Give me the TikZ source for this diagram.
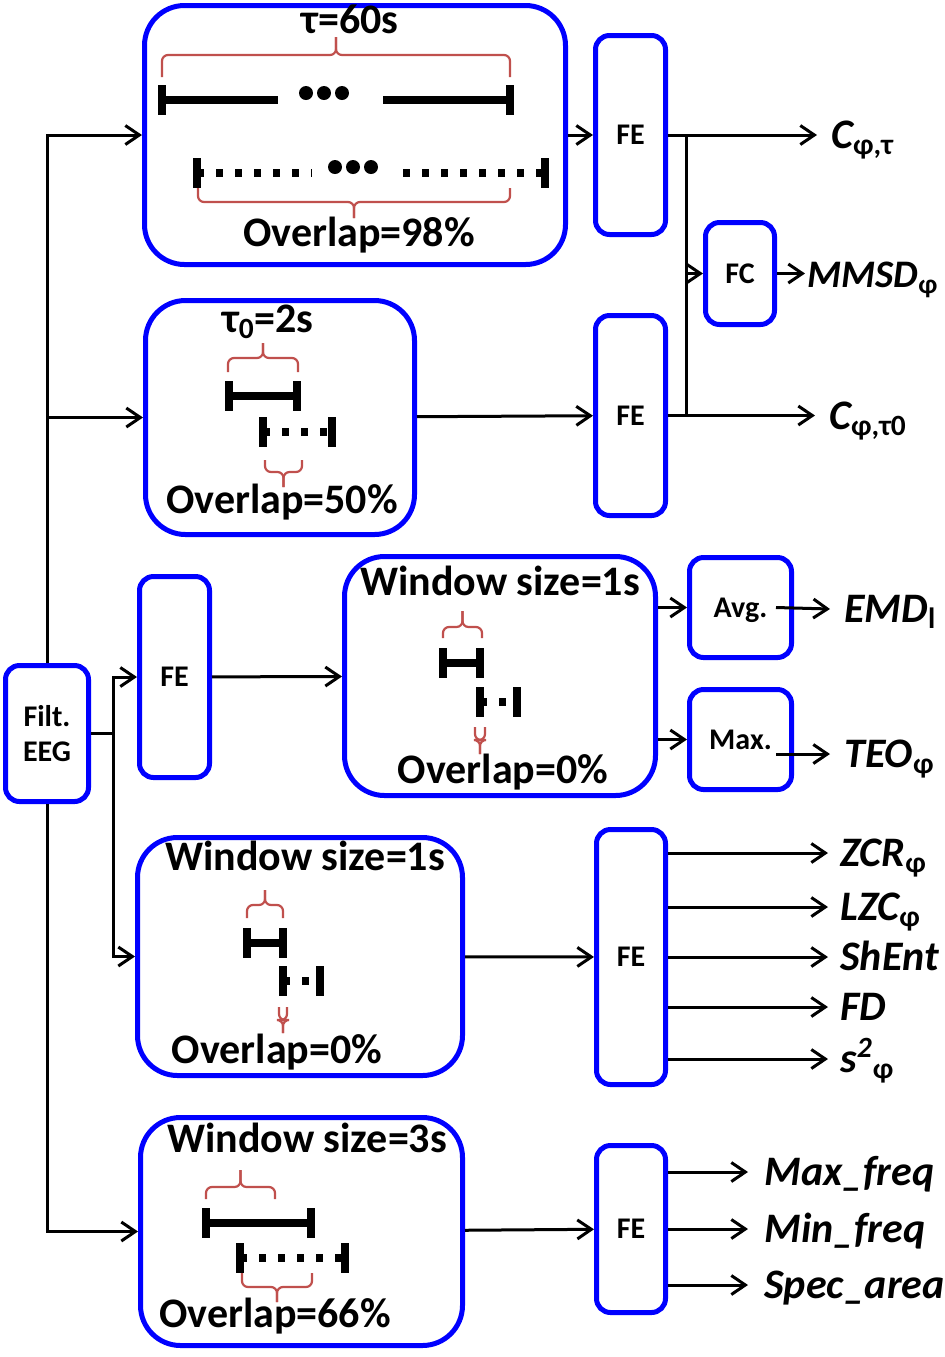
\documentclass[tikz,border=0pt]{standalone}
\usepackage{fontspec}
\setmainfont{Carlito}
\usetikzlibrary{arrows.meta}
\definecolor{boxblue}{RGB}{0,0,255}
\definecolor{bracered}{RGB}{192,80,77}
\tikzstyle{window}=[draw=boxblue,line width=2.5pt,rounded corners=20pt,fill=white]
\tikzstyle{stage}=[draw=boxblue,line width=2.5pt,rounded corners=7pt,align=center,text depth=0pt,font=\fontsize{15}{17.5}\selectfont\bfseries]
\tikzstyle{caption}=[anchor=base,inner sep=0pt,font=\fontsize{21}{25}\selectfont\bfseries]
\tikzstyle{feature}=[anchor=west,inner xsep=6pt,text height=13.5pt,text depth=0pt,font=\fontsize{21}{25}\selectfont\bfseries\itshape]
\tikzstyle{conn}=[line width=1.5pt]
\tikzstyle{arr}=[line width=1.5pt,-{Straight Barb[length=7pt,width=9.5pt]}]
\tikzstyle{winline}=[line width=4pt]
\tikzstyle{dotline}=[line width=4pt,dash pattern=on 3.5pt off 6pt]
\tikzstyle{capline}=[line width=4pt]
\tikzstyle{wbrace}=[draw=bracered,line width=1.1pt,rounded corners=3pt]
\newcommand{\wincap}[2]{\draw[capline] (#1,{#2-15}) -- (#1,{#2+15});}
\newcommand{\solidwin}[3]{\draw[winline] (#1,#3) -- (#2,#3); \wincap{#1}{#3}\wincap{#2}{#3}}
\newcommand{\dotwin}[3]{\draw[dotline] (#1,#3) -- (#2,#3); \wincap{#1}{#3}\wincap{#2}{#3}}
\newcommand{\wbr}[5]{\draw[wbrace] (#1,#3) |- ({(#1+#2)/2},#4) -- ({(#1+#2)/2},#5);
  \draw[wbrace] (#2,#3) |- ({(#1+#2)/2},#4) -- ({(#1+#2)/2},#5);}

\begin{document}
\begin{tikzpicture}[x=0.5pt,y=-0.5pt]
\useasboundingbox (0,0) rectangle (945,1357);

\node[stage,minimum width=41.5pt,minimum height=68pt] (filt) at (47,733.5) {Filt.\\EEG};

\node[window,minimum width=210.5pt,minimum height=129.5pt] (win1) at (355,135) {};
\node[window,minimum width=134.5pt,minimum height=117pt] (win2) at (280,417.5) {};
\node[window,minimum width=155.5pt,minimum height=119.5pt] (win3) at (500,676) {};
\node[window,minimum width=162.5pt,minimum height=119pt] (win4) at (300,956.5) {};
\node[window,minimum width=161pt,minimum height=114pt] (win5) at (301.5,1231.5) {};

\node[stage,minimum width=35pt,minimum height=99.5pt] (fe1) at (630.5,135) {FE};
\node[stage,minimum width=35pt,minimum height=100pt] (fe2) at (630.5,415.5) {FE};
\node[stage,minimum width=35pt,minimum height=100.5pt] (fe3) at (174.5,677) {FE};
\node[stage,minimum width=34.5pt,minimum height=127.5pt] (fe4) at (631,957) {FE};
\node[stage,minimum width=34.5pt,minimum height=83.5pt] (fe5) at (631,1229) {FE};
\node[stage,minimum width=34.5pt,minimum height=51pt] (fc) at (740,273.5) {FC};
\node[stage,minimum width=51pt,minimum height=50pt] (avg) at (740.5,607.5) {Avg.};
\node[stage,minimum width=51pt,minimum height=50pt] (max) at (740.5,739.5) {Max.};

% window 1
\node[caption] (tau) at (350,33) {τ=60s};
\wbr{162}{510}{77}{55}{37}
\wincap{162}{100}
\draw[winline] (162,100) -- (278,100);
\draw[winline] (383,100) -- (510,100);
\wincap{510}{100}
\fill (306,93) circle (3.5pt);
\fill (324,93) circle (3.5pt);
\fill (342,93) circle (3.5pt);
\wincap{197}{173}
\draw[dotline] (197,173) -- (312,173);
\draw[dotline] (403,173) -- (545,173);
\wincap{545}{173}
\fill (335,167) circle (3.5pt);
\fill (353,167) circle (3.5pt);
\fill (371,167) circle (3.5pt);
\wbr{198}{510}{188}{202}{218}
\node[caption] (ov98) at (359,246) {Overlap=98\%};

% window 2
\node[caption] (tau0) at (268,332) {τ\textsubscript{0}=2s};
\wbr{228}{298}{372}{358}{343}
\solidwin{229}{297}{396}
\dotwin{263}{332}{432}
\wbr{265}{302}{460}{472}{487}
\node[caption] (ov50) at (282,513) {Overlap=50\%};

% window 3
\node[caption] (ws3) at (500,595) {Window size=1s};
\wbr{443}{482}{638}{627}{611}
\solidwin{443}{480}{663}
\dotwin{480}{517}{702}
\wbr{475}{485}{727}{740}{754}
\node[caption] (ov3) at (503,783) {Overlap=0\%};

% window 4
\node[caption] (ws4) at (305,870) {Window size=1s};
\wbr{247}{283}{918}{905}{890}
\solidwin{247}{283}{943}
\dotwin{283}{320}{981}
\wbr{279}{287}{1007}{1020}{1033}
\node[caption] (ov4) at (277,1063) {Overlap=0\%};

% window 5
\node[caption] (ws5) at (307,1152) {Window size=3s};
\wbr{206}{275}{1199}{1187}{1170}
\solidwin{206}{311}{1223}
\dotwin{240}{345}{1258}
\wbr{242}{312}{1273}{1287}{1302}
\node[caption] (ov66) at (275,1327) {Overlap=66\%};

% outputs
\node[feature,inner xsep=7pt] (cphitau) at (817,135) {C\textsubscript{\upshape φ,τ}};
\node[feature,inner xsep=7pt] (cphitau0) at (815,415.5) {C\textsubscript{\upshape φ,τ0}};
\node[feature,inner xsep=1pt,font=\fontsize{19.5}{23}\selectfont\bfseries\itshape] (mmsd) at (805,273.5) {MMSD\textsubscript{\upshape φ}};
\node[feature,inner xsep=7pt] (emd) at (830,609) {EMD\textsubscript{\upshape l}};
\node[feature,inner xsep=7pt] (teo) at (830,754) {TEO\textsubscript{\upshape φ}};
\node[feature] (zcr) at (828,853) {ZCR\textsubscript{\upshape φ}};
\node[feature] (lzc) at (828,907) {LZC\textsubscript{\upshape φ}};
\node[feature] (shent) at (828,957) {ShEnt};
\node[feature] (fd) at (828,1007) {FD};
\node[feature] (svar) at (828,1059) {s\textsuperscript{2}\textsubscript{\upshape φ}};
\node[feature,inner xsep=8pt] (maxf) at (748,1172) {Max\_freq};
\node[feature,inner xsep=8pt] (minf) at (748,1229) {Min\_freq};
\node[feature,inner xsep=8pt] (spec) at (748,1285) {Spec\_area};

\draw[arr] (filt.north) |- (win1.west);
\draw[arr] (filt.north) |- (win2.west);
\draw[arr] (filt.south) |- (win5.west);
\coordinate (split) at ([xshift=11pt]filt.east);
\draw[conn] (filt.east) -- (split);
\draw[arr] (split) |- (fe3.west);
\draw[arr] (split) |- (win4.west);

\draw[arr] (win1) -- (fe1);
\draw[arr] (win2) -- (fe2);
\draw[arr] (fe3) -- (win3);
\draw[arr] (win4) -- (fe4);
\draw[arr] (win5) -- (fe5);

\draw[arr] (fe1) -- (cphitau.west);
\draw[arr] (fe2) -- (cphitau0.west);
\coordinate (jtop) at (686,135);
\coordinate (jbot) at (686,415.5);
\draw[conn] (jtop) -- (jbot);
\draw[arr] (jtop |- fc) -- (fc);
\draw[arr] (fc) -- (mmsd.west);

\draw[arr] (win3.east |- avg) -- (avg);
\draw[arr] (win3.east |- max) -- (max);
\draw[arr] ([xshift=-9pt]avg.east) -- (emd.west);
\coordinate (maxout) at (776,754);
\draw[arr] (maxout) -- (teo.west);

\draw[arr] (fe4.east |- zcr.west) -- (zcr.west);
\draw[arr] (fe4.east |- lzc.west) -- (lzc.west);
\draw[arr] (fe4.east |- shent.west) -- (shent.west);
\draw[arr] (fe4.east |- fd.west) -- (fd.west);
\draw[arr] (fe4.east |- svar.west) -- (svar.west);

\draw[arr] (fe5.east |- maxf.west) -- (maxf.west);
\draw[arr] (fe5.east |- minf.west) -- (minf.west);
\draw[arr] (fe5.east |- spec.west) -- (spec.west);
\end{tikzpicture}
\end{document}
